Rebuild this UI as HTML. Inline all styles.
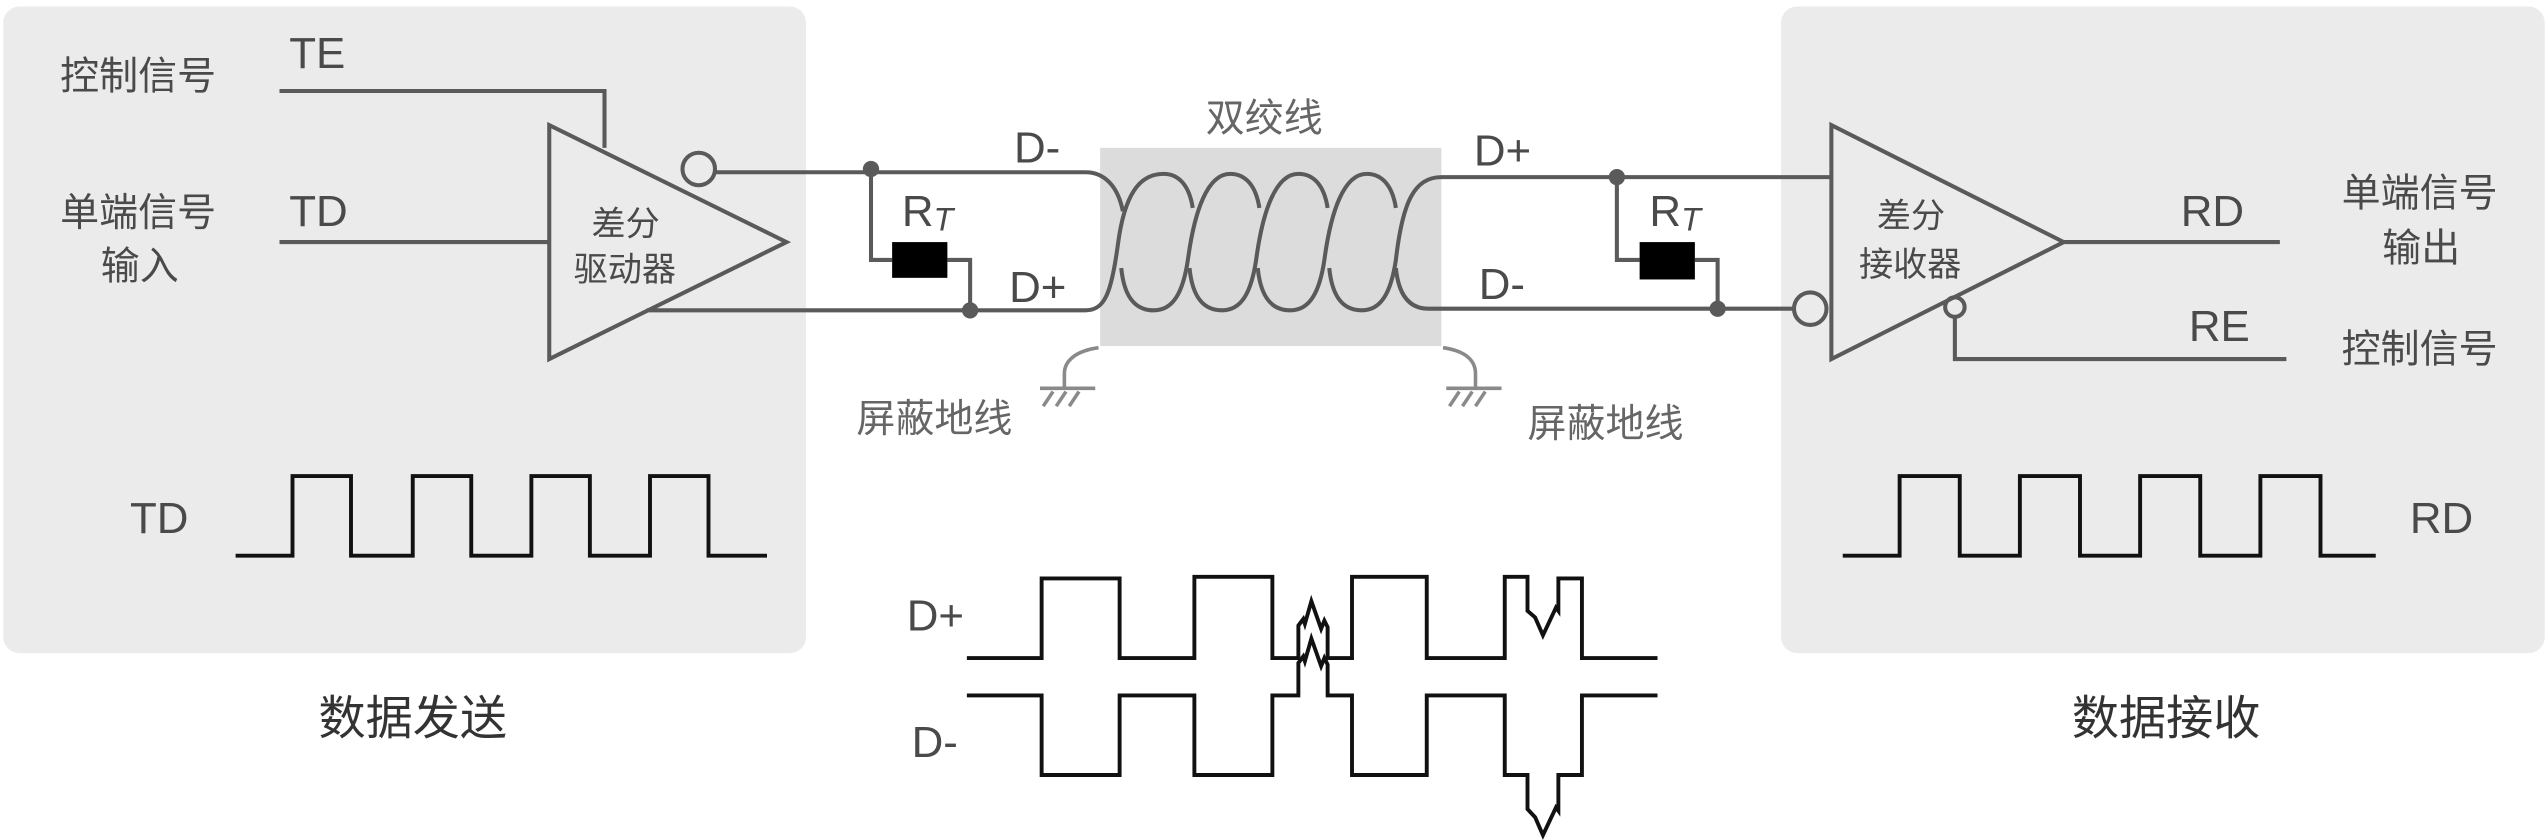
<!DOCTYPE html>
<html><head><meta charset="utf-8"><style>
html,body{margin:0;padding:0;background:#fff;}
svg{display:block;}
text{font-family:"Liberation Sans","Noto Sans CJK SC",sans-serif;}
</style></head><body>
<svg width="2548" height="840" viewBox="0 0 1568 517" preserveAspectRatio="none" xmlns="http://www.w3.org/2000/svg">
<g>
<rect x="2" y="4" width="494" height="398" rx="10" fill="#ebebeb"/>
</g>
<g>
<rect x="1096" y="4" width="470" height="398" rx="10" fill="#ebebeb"/>
</g>
<rect x="677" y="91" width="210" height="122" fill="#dcdcdc"/>

<g fill="none" stroke="#5a5a5a" stroke-width="2.5">
<path d="M172,56 H372 V91"/>
<path d="M172,149 H338"/>
<polygon points="338,77 338,221 484,149"/>
<circle cx="430" cy="104" r="10"/>
<path d="M440,106 H668 C680,106 688,115 691,130"/>
<path d="M398,191 H668 C680,191 684,180 688,150 C692,120 701,107 716,107 C726,107 732,115 734,128"/>
<path d="M536,104 V160 H549 M583,160 H597 V191"/>
<path d="M690,165 C692,185 700,191 710,191 C722,191 728,180 731,160 C735,130 743,107 757,107 C767,107 773,115 775,128"/>
<path d="M732,165 C734,185 742,191 752,191 C764,191 770,180 773,160 C777,130 785,107 799,107 C809,107 815,115 817,128"/>
<path d="M774,165 C776,185 784,191 794,191 C806,191 812,180 815,160 C819,130 827,107 841,107 C851,107 857,115 859,128"/>
<path d="M818,165 C820,185 828,191 838,191 C850,191 856,180 859,160 C863,125 870,109 887,109 H1127"/>
<path d="M859,165 C861,185 870,190 879,190 H1104"/>
<path d="M995,109 V160 H1009 M1043,160 H1057 V190"/>
<polygon points="1127,77 1127,221 1270,149"/>
<circle cx="1114" cy="190" r="10"/>
<circle cx="1203" cy="189" r="6"/>
<path d="M1270,149 H1403"/>
<path d="M1203,195 V221 H1407"/>
</g>
<g fill="none" stroke="#8a8a8a" stroke-width="2.2">
<path d="M676,214 C662,216 655,222 655,230 V239 M640,239 H674 M648,241 L642,250 M656,241 L650,250 M664,241 L658,250"/>
</g>
<g fill="none" stroke="#8a8a8a" stroke-width="2.2">
<path d="M888,214 C902,216 908,222 908,230 V239 M890,239 H924 M898,241 L892,250 M906,241 L900,250 M914,241 L908,250"/>
</g>
<g fill="#5a5a5a">
<circle cx="536" cy="104" r="5"/>
<circle cx="597" cy="191" r="5"/>
<circle cx="995" cy="109" r="5"/>
<circle cx="1057" cy="190" r="5"/>
</g>
<rect x="549" y="149" width="34" height="22" fill="#000"/>
<rect x="1009" y="149" width="34" height="23" fill="#000"/>

<g fill="#4a4a4a" font-size="24">
<text x="37" y="55">控制信号</text>
<text x="178" y="42" font-size="27">TE</text>
<text x="37" y="139">单端信号</text>
<text x="62" y="172">输入</text>
<text x="178" y="139" font-size="27">TD</text>
<text x="364" y="145" font-size="21">差分</text>
<text x="353" y="173" font-size="21">驱动器</text>
<text x="555" y="139" font-size="27">R<tspan font-size="20" font-style="italic" dy="3">T</tspan></text>
<text x="624" y="100" font-size="27">D-</text>
<text x="621" y="186" font-size="27">D+</text>
<text x="742" y="81" fill="#666">双绞线</text>
<text x="907" y="102" font-size="27">D+</text>
<text x="910" y="184" font-size="27">D-</text>
<text x="1015" y="139" font-size="27">R<tspan font-size="20" font-style="italic" dy="3">T</tspan></text>
<text x="1155" y="140" font-size="21">差分</text>
<text x="1144" y="170" font-size="21">接收器</text>
<text x="1342" y="139" font-size="27">RD</text>
<text x="1347" y="210" font-size="27">RE</text>
<text x="1441" y="127">单端信号</text>
<text x="1466" y="161">输出</text>
<text x="1441" y="223">控制信号</text>
<text x="527" y="266" fill="#666">屏蔽地线</text>
<text x="940" y="269" fill="#666">屏蔽地线</text>
<text x="80" y="328" font-size="27">TD</text>
<text x="1483" y="328" font-size="27">RD</text>
<text x="558" y="388" font-size="27">D+</text>
<text x="561" y="466" font-size="27">D-</text>
<text x="196" y="452" font-size="29" fill="#333">数据发送</text>
<text x="1275" y="452" font-size="29" fill="#333">数据接收</text>
</g>

<g fill="none" stroke="#111" stroke-width="2.4">
<path d="M145,342 H180 V293 H216 V342 H254 V293 H290 V342 H327 V293 H363 V342 H400 V293 H436 V342 H472"/>
<path d="M1134,342 H1169 V293 H1206 V342 H1243 V293 H1280 V342 H1317 V293 H1354 V342 H1391 V293 H1428 V342 H1462"/>
<path d="M595,405 H641 V356 H689 V405 H735 V355 H783 V405 H799 V385 L802,381 L803,384 L807,370 L813,387 L815,382 L817,386 V405 H832 V355 H878 V405 H926 V355 H940 V376 L944.7,380 L949.5,391 L957.5,374 L959,376 V356 H973.5 V405 H1020"/>
<path d="M595,428 H641 V477 H689 V428 H735 V477 H783 V428 H799 V408 L802,404 L803,407 L807,393 L813,410 L815,405 L817,409 V428 H832 V477 H878 V428 H926 V477 H940 V498 L944.7,503 L949.5,514 L957.5,497 L959,499 V477 H973.5 V428 H1020"/>
</g>
</svg>
</body></html>
